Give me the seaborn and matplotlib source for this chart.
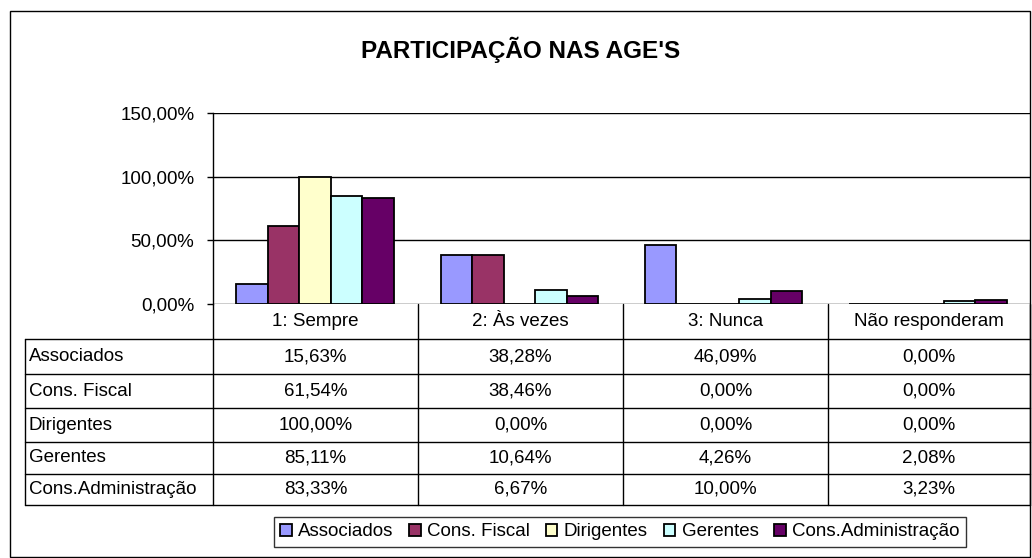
import matplotlib
matplotlib.use("Agg")
import matplotlib.pyplot as plt
from matplotlib.lines import Line2D
from matplotlib.patches import Rectangle
import seaborn as sns
import pandas as pd

TITULO = "PARTICIPAÇÃO NAS AGE'S"
CATEGORIAS = ["1: Sempre", "2: Às vezes", "3: Nunca", "Não responderam"]
GRUPOS = ["Associados", "Cons. Fiscal", "Dirigentes", "Gerentes", "Cons.Administração"]
ASSOCIADOS = [15.63, 38.28, 46.09, 0.00]
CONS_FISCAL = [61.54, 38.46, 0.00, 0.00]
DIRIGENTES = [100.00, 0.00, 0.00, 0.00]
GERENTES = [85.11, 10.64, 4.26, 2.08]
CONS_ADMIN = [83.33, 6.67, 10.00, 3.23]
CORES = ["#9999FF", "#993366", "#FFFFCC", "#CCFFFF", "#660066"]
Y_TICKS = [0, 50, 100, 150]

W, H = 1032, 558


def fx(x):
    return x / W


def fy(y):
    return 1 - y / H


def pct(v):
    return f"{v:.2f}%".replace(".", ",")


valores = [ASSOCIADOS, CONS_FISCAL, DIRIGENTES, GERENTES, CONS_ADMIN]
linhas = []
for grupo, serie in zip(GRUPOS, valores):
    for cat, v in zip(CATEGORIAS, serie):
        linhas.append({"Categoria": cat, "Grupo": grupo, "Valor": v / 100})
df = pd.DataFrame(linhas)

sns.set_theme(style="white")
plt.rcParams["font.family"] = ["Liberation Sans", "DejaVu Sans"]
plt.rcParams["text.color"] = "black"
plt.rcParams["ytick.color"] = "black"
plt.rcParams["ytick.labelcolor"] = "black"

FS = 13.5

fig = plt.figure(figsize=(W / 100, H / 100), dpi=100)
fig.patch.set_facecolor("white")

# moldura externa
fig.add_artist(Rectangle((fx(10), fy(557)), fx(1030) - fx(10), fy(11) - fy(557),
                         transform=fig.transFigure, fill=False, edgecolor="black", lw=1))

left, right, top, bottom = 213, 1030, 113, 304
ax = fig.add_axes([fx(left), fy(bottom), fx(right) - fx(left), fy(top) - fy(bottom)])
sns.barplot(data=df, x="Categoria", y="Valor", hue="Grupo", order=CATEGORIAS,
            hue_order=GRUPOS, palette=CORES, width=0.77, edgecolor="black",
            linewidth=1.3, saturation=1, ax=ax, legend=True)
ax.set_xlim(-0.5, 3.5)
ax.set_ylim(0, 1.5)
ax.set_yticks([t / 100 for t in Y_TICKS])
ax.set_yticklabels([pct(t) for t in Y_TICKS], fontsize=FS)
ax.set_xticks([])
ax.set_xlabel("")
ax.set_ylabel("")
for t in Y_TICKS:
    ax.axhline(t / 100, color="black", lw=1, zorder=0)
ax.tick_params(axis="y", left=True, length=4.5, width=1, color="black", pad=9)
for s in ["top", "right", "bottom"]:
    ax.spines[s].set_visible(False)
ax.spines["left"].set_color("black")
ax.spines["left"].set_linewidth(1)

handles, labels = ax.get_legend_handles_labels()
ax.get_legend().remove()

fig.text(fx(521), fy(50), TITULO, ha="center", va="center", fontsize=17.5,
         fontweight="bold", color="black")

# tabela de dados
col_x = [213, 418, 623, 828, 1030]
row_y = [339, 374, 408, 442, 474, 505]
for y in row_y:
    fig.add_artist(Line2D([fx(25), fx(1030)], [fy(y), fy(y)], color="black", lw=1))
for x in col_x:
    fig.add_artist(Line2D([fx(x), fx(x)], [fy(304), fy(505)], color="black", lw=1))
fig.add_artist(Line2D([fx(25), fx(25)], [fy(339), fy(505)], color="black", lw=1))

for i, cat in enumerate(CATEGORIAS):
    cx = (col_x[i] + col_x[i + 1]) / 2
    fig.text(fx(cx), fy(322), cat, ha="center", va="center", fontsize=FS)
for r, (grupo, serie) in enumerate(zip(GRUPOS, valores)):
    cy = (row_y[r] + row_y[r + 1]) / 2
    fig.text(fx(29), fy(cy), grupo, ha="left", va="center", fontsize=FS)
    for i, v in enumerate(serie):
        cx = (col_x[i] + col_x[i + 1]) / 2
        fig.text(fx(cx), fy(cy), pct(v), ha="center", va="center", fontsize=FS)

leg = fig.legend(handles, labels, loc="center", bbox_to_anchor=(fx(620), fy(532)),
                 ncol=5, fontsize=FS, frameon=True, fancybox=False, edgecolor="black",
                 handlelength=0.6, handleheight=0.6, handletextpad=0.35,
                 columnspacing=0.85, borderpad=0.35)
leg.get_frame().set_linewidth(1)

fig.savefig("out.png", dpi=100)
